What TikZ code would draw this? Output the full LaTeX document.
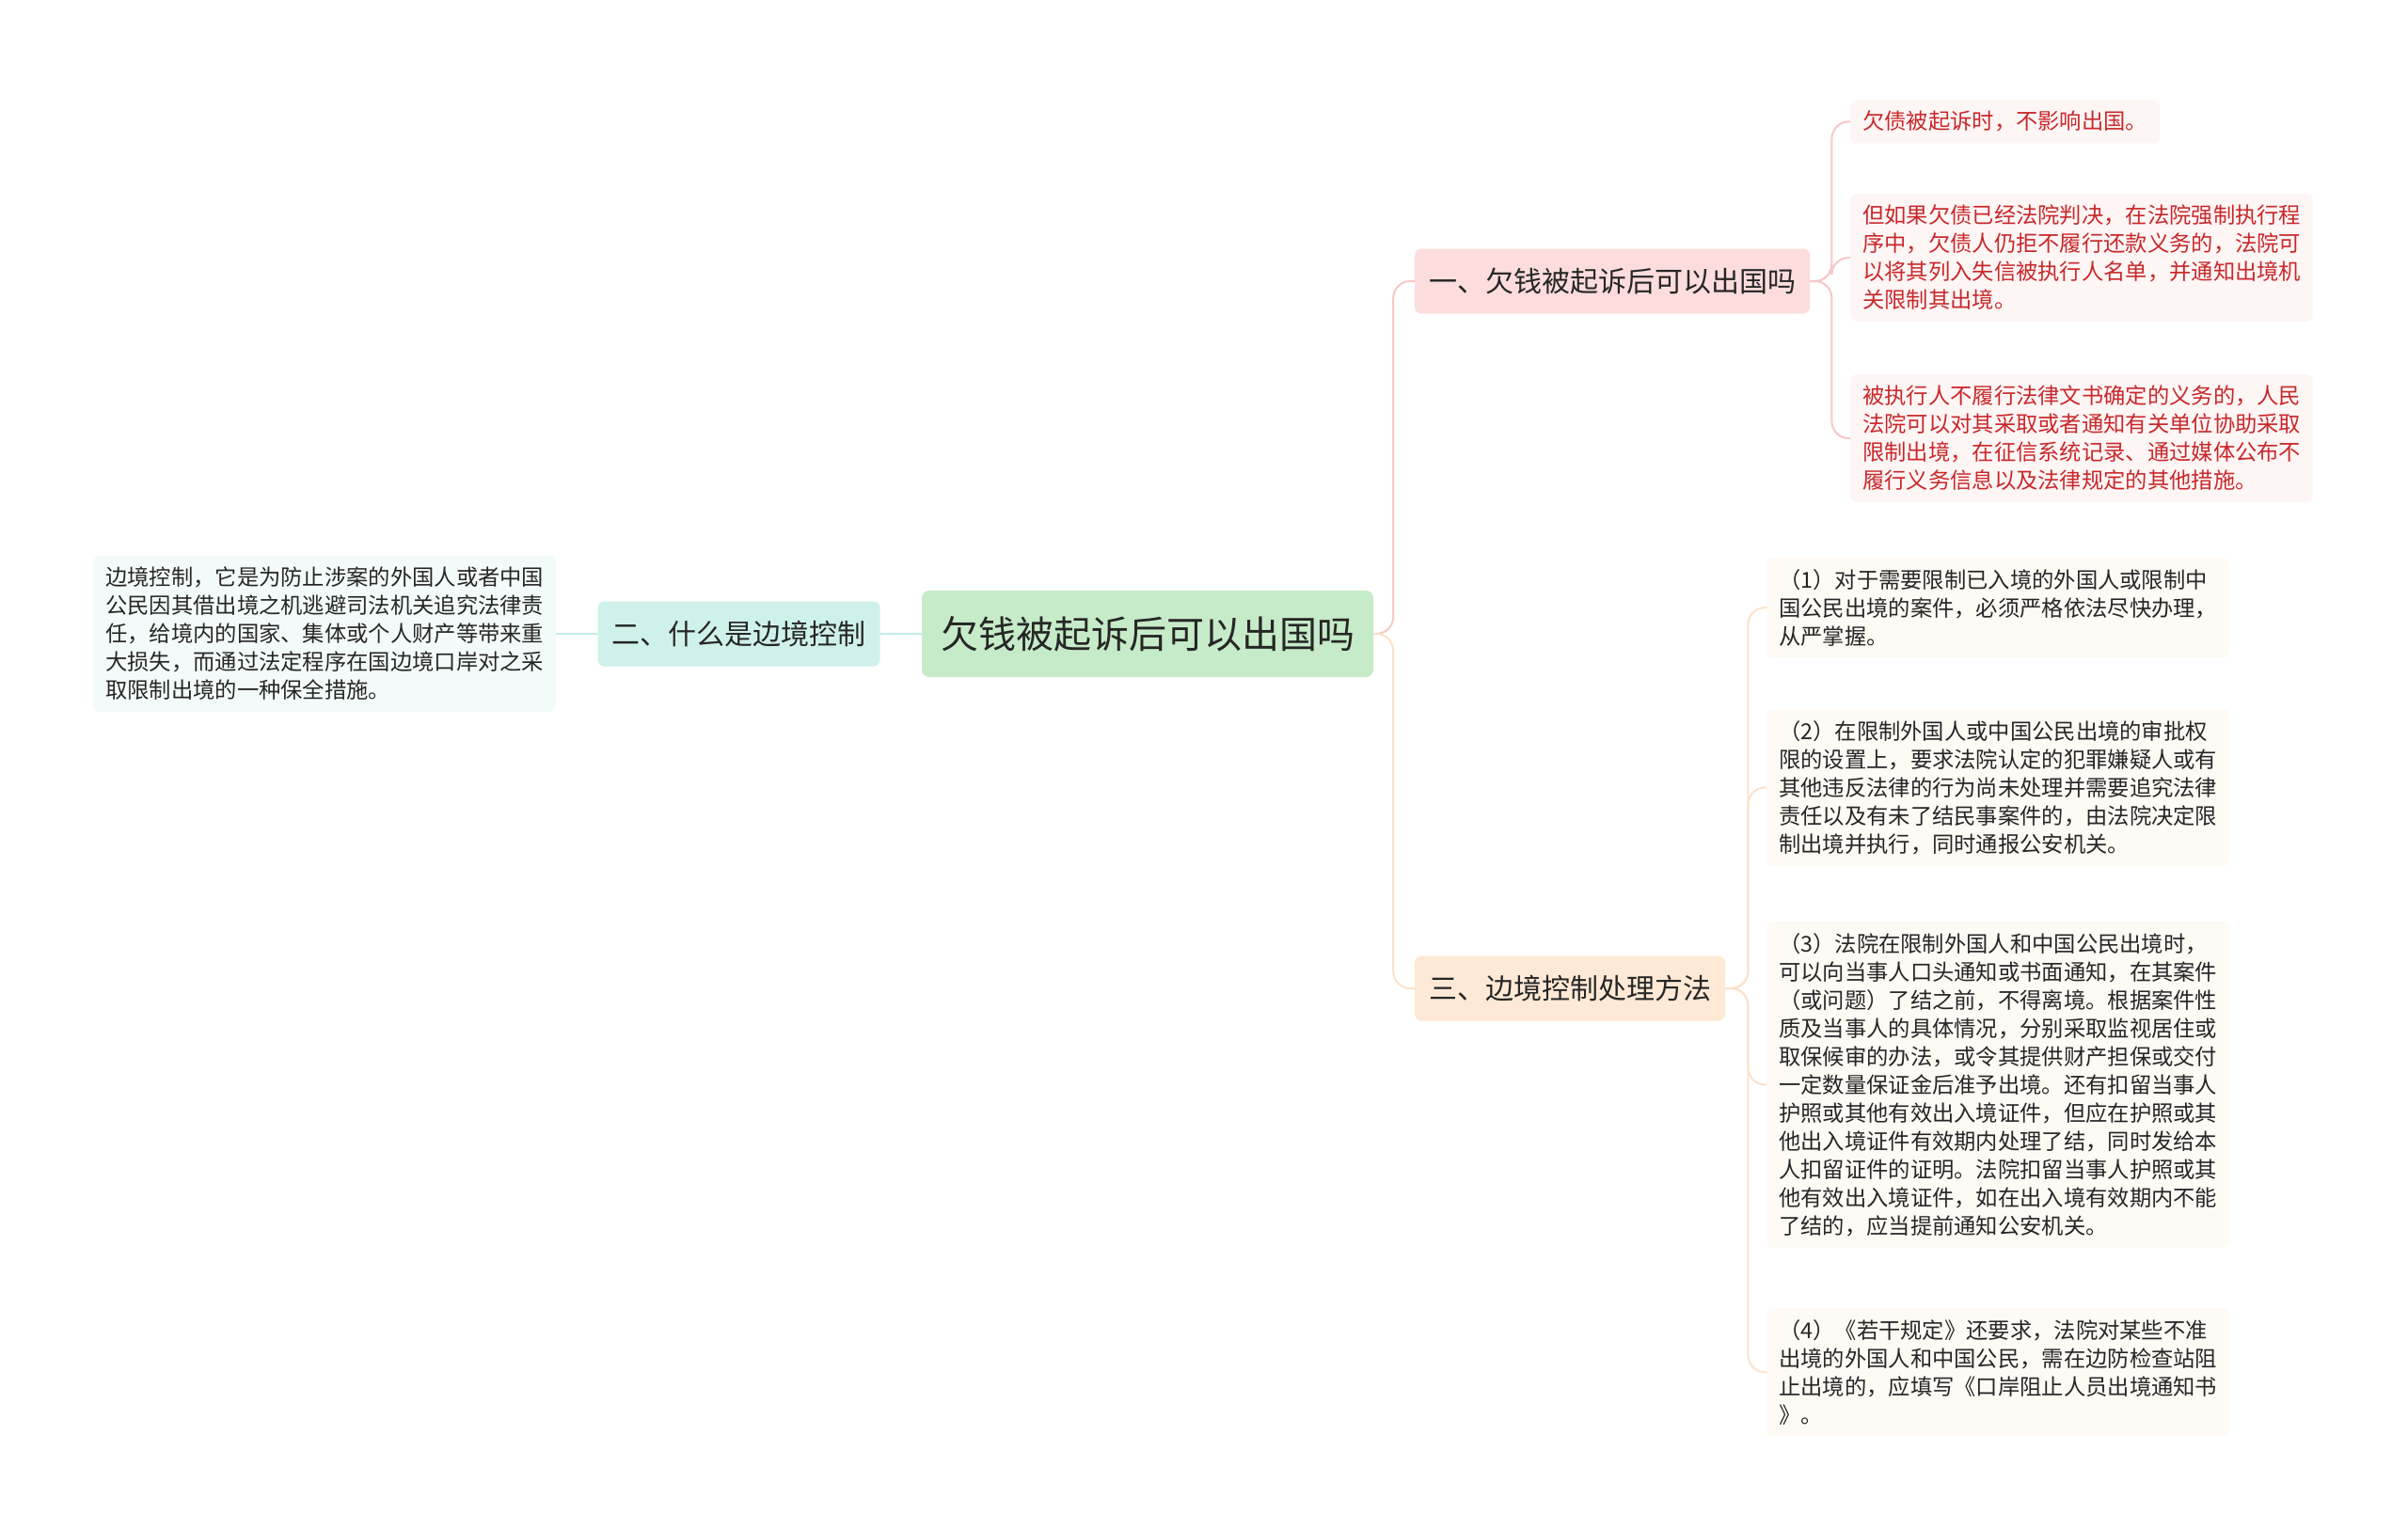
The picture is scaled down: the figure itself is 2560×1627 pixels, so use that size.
\documentclass[tikz,border=0pt]{standalone}
\usepackage{fontspec}
\setmainfont{Noto Sans CJK SC}
\usetikzlibrary{positioning}
\definecolor{rootfill}{HTML}{C6EBC9}
\definecolor{cyanfill}{HTML}{CFF1EB}
\definecolor{cyanleaf}{HTML}{F3FBFA}
\definecolor{cyanline}{HTML}{C2ECE5}
\definecolor{pinkfill}{HTML}{FCDCDC}
\definecolor{pinkleaf}{HTML}{FEF5F5}
\definecolor{pinkline}{HTML}{F7C8C8}
\definecolor{redtext}{HTML}{C8282A}
\definecolor{peachfill}{HTML}{FDE9D6}
\definecolor{peachleaf}{HTML}{FEFAF4}
\definecolor{peachline}{HTML}{FBE2CB}
\definecolor{ink}{HTML}{262626}
\begin{document}
\begin{tikzpicture}[x=1pt,y=-1pt,
  root/.style={fill=rootfill,rounded corners=8pt,minimum height=92pt,inner xsep=20pt,text=ink,font=\fontsize{40}{48}\selectfont},
  topic/.style={rounded corners=7pt,minimum height=69pt,inner xsep=15pt,text=ink,font=\fontsize{30}{36}\selectfont},
  leaf/.style={rounded corners=7pt,inner xsep=13pt,inner ysep=12pt,align=left,text=ink,font=\fontsize{23.3}{30}\selectfont},
  link/.style={line width=2pt,rounded corners=18pt}]
  \useasboundingbox (0,0) rectangle (2560,1627);
  \node[root] (root) at (1220,674) {欠钱被起诉后可以出国吗};
  \node[topic,fill=cyanfill,left=44pt of root] (two) {二、什么是边境控制};
  \node[leaf,fill=cyanleaf,left=44pt of two] (twotxt) {边境控制，它是为防止涉案的外国人或者中国\\公民因其借出境之机逃避司法机关追究法律责\\任，给境内的国家、集体或个人财产等带来重\\大损失，而通过法定程序在国边境口岸对之采\\取限制出境的一种保全措施。};
  \node[topic,fill=pinkfill,anchor=west] (one) at (1504,299) {一、欠钱被起诉后可以出国吗};
  \node[topic,fill=peachfill,anchor=west] (three) at (1504,1051) {三、边境控制处理方法};
  \node[leaf,fill=pinkleaf,text=redtext,anchor=north west] (l1) at (1967,106) {欠债被起诉时，不影响出国。};
  \node[leaf,fill=pinkleaf,text=redtext,anchor=north west] (l2) at (1967,206) {但如果欠债已经法院判决，在法院强制执行程\\序中，欠债人仍拒不履行还款义务的，法院可\\以将其列入失信被执行人名单，并通知出境机\\关限制其出境。};
  \node[leaf,fill=pinkleaf,text=redtext,anchor=north west] (l3) at (1967,398) {被执行人不履行法律文书确定的义务的，人民\\法院可以对其采取或者通知有关单位协助采取\\限制出境，在征信系统记录、通过媒体公布不\\履行义务信息以及法律规定的其他措施。};
  \node[leaf,fill=peachleaf,anchor=north west] (b1) at (1878,593) {（1）对于需要限制已入境的外国人或限制中\\国公民出境的案件，必须严格依法尽快办理，\\从严掌握。};
  \node[leaf,fill=peachleaf,anchor=north west] (b2) at (1878,754) {（2）在限制外国人或中国公民出境的审批权\\限的设置上，要求法院认定的犯罪嫌疑人或有\\其他违反法律的行为尚未处理并需要追究法律\\责任以及有未了结民事案件的，由法院决定限\\制出境并执行，同时通报公安机关。};
  \node[leaf,fill=peachleaf,anchor=north west] (b3) at (1878,980) {（3）法院在限制外国人和中国公民出境时，\\可以向当事人口头通知或书面通知，在其案件\\（或问题）了结之前，不得离境。根据案件性\\质及当事人的具体情况，分别采取监视居住或\\取保候审的办法，或令其提供财产担保或交付\\一定数量保证金后准予出境。还有扣留当事人\\护照或其他有效出入境证件，但应在护照或其\\他出入境证件有效期内处理了结，同时发给本\\人扣留证件的证明。法院扣留当事人护照或其\\他有效出入境证件，如在出入境有效期内不能\\了结的，应当提前通知公安机关。};
  \node[leaf,fill=peachleaf,anchor=north west] (b4) at (1878,1391) {（4）《若干规定》还要求，法院对某些不准\\出境的外国人和中国公民，需在边防检查站阻\\止出境的，应填写《口岸阻止人员出境通知书\\》。};
  \draw[link,cyanline] (root.west) -- (two.east);
  \draw[link,cyanline] (two.west) -- (twotxt.east);
  \draw[link,pinkline] (root.east) -- ++(21,0) |- (one.west);
  \draw[link,peachline] (root.east) -- ++(21,0) |- (three.west);
  \foreach \n in {l1,l2,l3}
    \draw[link,pinkline] (one.east) -- ++(23,0) |- (\n.west);
  \foreach \n in {b1,b2,b3,b4}
    \draw[link,peachline] (three.east) -- ++(24,0) |- (\n.west);
\end{tikzpicture}
\end{document}
